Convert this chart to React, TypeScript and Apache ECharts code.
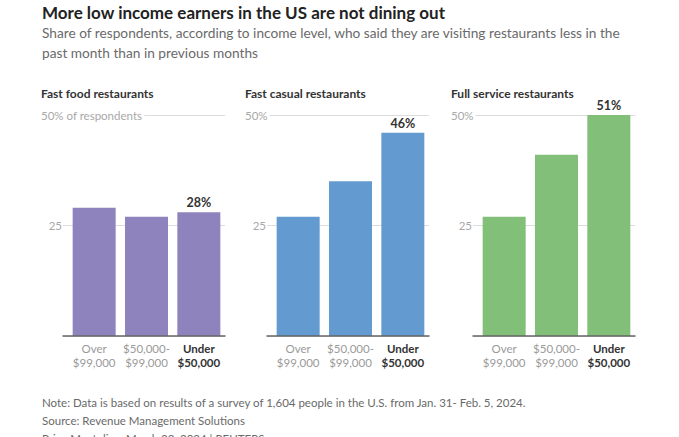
import React, { useEffect, useRef } from "react";
import * as echarts from "echarts";

// Income groups shared by all three panels
const incomeGroups = ["Over\n$99,000", "$50,000-\n$99,000", "Under\n$50,000"];

// Share of respondents visiting restaurants less (%)
const fastFood = [29, 27, 28];
const fastCasual = [27, 35, 46];
const fullService = [27, 41, 51];

const panelTitles = ["Fast food restaurants", "Fast casual restaurants", "Full service restaurants"];
const panelColors = ["#8f83bd", "#639bd0", "#82c07a"];
const yTicks = [0, 25, 50];

const FONT = "Lato, 'Noto Sans', sans-serif";

export default function App() {
  const ref = useRef<HTMLDivElement>(null);

  useEffect(() => {
    document.body.style.margin = "0";
    if (!ref.current) return;
    const chart = echarts.init(ref.current, undefined, { renderer: "svg" });

    const panels = [fastFood, fastCasual, fullService];
    const panelLeft = [68, 272, 478];
    const plotWidth = 157;
    const top = 115;
    const height = 221;
    const yMax = yTicks[yTicks.length - 1];
    const yStep = yTicks[1] - yTicks[0];

    const grids: any[] = [];
    const xAxes: any[] = [];
    const yAxes: any[] = [];
    const series: any[] = [];

    panels.forEach((values, i) => {
      const L = panelLeft[i];
      // grid for gridlines / baseline (slightly wider), and grid for bars
      grids.push({ left: L - 5, top, width: plotWidth + 5, height });
      grids.push({ left: L, top, width: plotWidth, height });
      const gA = i * 2;
      const gB = i * 2 + 1;

      xAxes.push({
        gridIndex: gA,
        type: "category",
        data: [""],
        axisLine: { show: true, lineStyle: { color: "#666", width: 1.5 } },
        axisTick: { show: false },
        axisLabel: { show: false },
        splitLine: { show: false },
        z: 5,
      });
      xAxes.push({
        gridIndex: gB,
        type: "category",
        data: incomeGroups,
        axisLine: { show: false },
        axisTick: { show: false },
        axisLabel: {
          margin: 5,
          interval: 0,
          fontFamily: FONT,
          formatter: (v: string, idx: number) => {
            const tag = idx === incomeGroups.length - 1 ? "b" : "a";
            return v
              .split("\n")
              .map((ln) => `{${tag}|${ln}}`)
              .join("\n");
          },
          rich: {
            a: { color: "#9a9a9a", fontSize: 11.5, lineHeight: 14, fontFamily: FONT },
            b: { color: "#333", fontSize: 11.5, lineHeight: 14, fontWeight: "bold", fontFamily: FONT },
          },
        },
      });

      const yBase = { min: 0, max: yMax, interval: yStep };
      yAxes.push({
        gridIndex: gA,
        type: "value",
        position: "left",
        ...yBase,
        axisLine: { show: false },
        axisTick: { show: false },
        splitLine: { show: true, lineStyle: { color: "#dcdcdc", width: 1 } },
        axisLabel: {
          margin: 1,
          color: "#a8a8a8",
          fontSize: 11.5,
          fontFamily: FONT,
          formatter: (v: number) => (v === 25 ? String(v) : ""),
        },
      });
      yAxes.push({
        gridIndex: gA,
        type: "value",
        position: "left",
        offset: 0,
        ...yBase,
        axisLine: { show: false },
        axisTick: { show: false },
        splitLine: { show: false },
        axisLabel: {
          margin: 22,
          align: "left",
          color: "#a8a8a8",
          fontSize: 11.5,
          fontFamily: FONT,
          backgroundColor: "#fff",
          padding: [0, 2, 0, 0],
          formatter: (v: number) =>
            v === yMax ? (i === 0 ? `${v}% of respondents` : `${v}%`) : "",
        },
      });
      yAxes.push({
        gridIndex: gB,
        type: "value",
        ...yBase,
        show: false,
        splitLine: { show: false },
      });

      series.push({
        type: "bar",
        xAxisIndex: gB,
        yAxisIndex: i * 3 + 2,
        data: values,
        barWidth: 43,
        itemStyle: { color: panelColors[i] },
        label: {
          show: true,
          position: "top",
          distance: 3,
          color: "#333",
          fontSize: 12.5,
          fontWeight: "bold",
          fontFamily: FONT,
          formatter: (p: any) => (p.dataIndex === values.length - 1 ? `${p.value}%` : ""),
        },
        z: 3,
      });
    });

    const titles: any[] = [
      {
        text: "More low income earners in the US are not dining out",
        left: 42,
        top: 4,
        padding: 0,
        textStyle: { fontSize: 17, fontWeight: "bold", color: "#222", fontFamily: FONT },
      },
      {
        text:
          "Share of respondents, according to income level, who said they are visiting restaurants less in the\npast month than in previous months",
        left: 42,
        top: 22,
        padding: 0,
        textStyle: { fontSize: 13.7, fontWeight: "normal", color: "#6a6a6a", lineHeight: 20, fontFamily: FONT },
      },
      ...panelTitles.map((t, i) => ({
        text: t,
        left: panelLeft[i] - 27,
        top: 87,
        padding: 0,
        textStyle: { fontSize: 12, fontWeight: "bold", color: "#333", fontFamily: FONT },
      })),
      {
        text:
          "Note: Data is based on results of a survey of 1,604 people in the U.S. from Jan. 31- Feb. 5, 2024.\nSource: Revenue Management Solutions\nPrinz Magtulis \u2022 March 22, 2024 | REUTERS",
        left: 42,
        top: 393,
        padding: 0,
        textStyle: { fontSize: 11.5, fontWeight: "normal", color: "#6a6a6a", lineHeight: 18, fontFamily: FONT },
      },
    ];

    chart.setOption({
      animation: false,
      backgroundColor: "#fff",
      title: titles,
      grid: grids,
      xAxis: xAxes,
      yAxis: yAxes,
      series,
    });

    return () => chart.dispose();
  }, []);

  return <div ref={ref} style={{ width: 679, height: 437 }} />;
}
